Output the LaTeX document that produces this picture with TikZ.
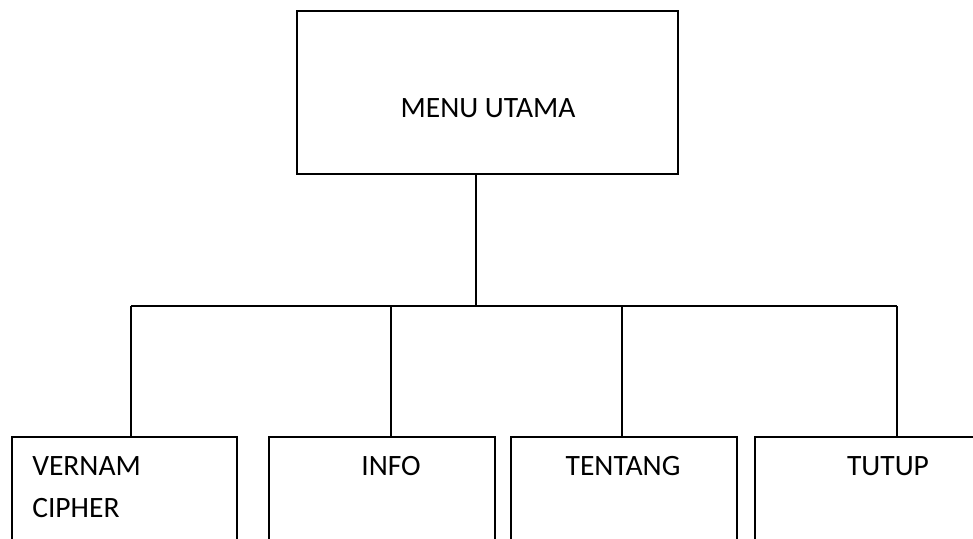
\documentclass[tikz,border=0pt]{standalone}
\usepackage{fontspec}
\setmainfont{Carlito}
\usepackage{tikz}
\usetikzlibrary{positioning}

\begin{document}
\begin{tikzpicture}[x=0.025cm, y=-0.025cm, font=\fontsize{21}{29.6}\selectfont]
        % Styles
        \tikzstyle{kotak} = [draw, rectangle, line width=0.9pt, inner sep=0pt]
        \tikzstyle{teks} = [inner sep=0pt]
        \tikzstyle{garis} = [line width=0.9pt]

        \useasboundingbox (0,0) rectangle (973,539);
        \clip (0,0) rectangle (973,539);

        % Kotak menu utama
        \node [kotak, minimum width=9.525cm, minimum height=4.075cm] (menu) at (487.5,92.5) {};
        \node [teks, anchor=base] (tmenu) at (488,117) {MENU UTAMA};

        % Kotak sub menu (terpotong di bawah)
        \node [kotak, minimum width=5.625cm, minimum height=3.325cm] (vernam) at (124.5,503.5) {};
        \node [kotak, minimum width=5.65cm, minimum height=3.325cm] (info) at (382,503.5) {};
        \node [kotak, minimum width=5.65cm, minimum height=3.325cm] (tentang) at (624,503.5) {};
        \node [kotak, minimum width=6.125cm, minimum height=3.325cm] (tutup) at (877.5,503.5) {};

        % Teks sub menu
        \node [teks, anchor=base west, align=left] (tvernam) at (32,517) {VERNAM\\CIPHER};
        \node [teks, anchor=base] (tinfo) at (391,475) {INFO};
        \node [teks, anchor=base] (ttentang) at (623,475) {TENTANG};
        \node [teks, anchor=base] (ttutup) at (888,475) {TUTUP};

        % Titik cabang
        \coordinate (j0) at (476,306);
        \coordinate (j1) at (131,306);
        \coordinate (j2) at (391,306);
        \coordinate (j3) at (622,306);
        \coordinate (j4) at (897,306);

        % Garis penghubung
        \draw [garis] (j0 |- menu.south) -- (j0);
        \draw [garis] (j1) -- (j4);
        \draw [garis] (j1) -- (j1 |- vernam.north);
        \draw [garis] (j2) -- (j2 |- info.north);
        \draw [garis] (j3) -- (j3 |- tentang.north);
        \draw [garis] (j4) -- (j4 |- tutup.north);
\end{tikzpicture}
\end{document}
